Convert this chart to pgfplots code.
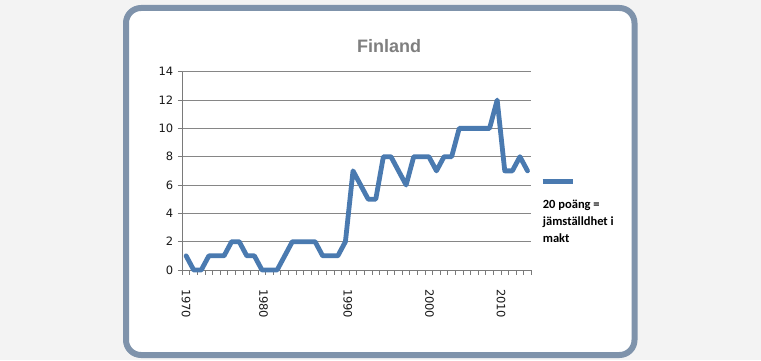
\documentclass[border=0pt]{standalone}
\usepackage{fontspec}
\setmainfont{DejaVu Sans}
\newfontfamily\titlefont{Liberation Sans}
\newfontfamily\legfont{Carlito}
\newfontfamily\tickfont{DejaVu Sans}
\newcommand\xl[1]{\mbox{\tickfont\fontsize{11.5bp}{13bp}\selectfont #1}}
\usepackage{pgfplots}
\pgfplotsset{compat=1.18}
\definecolor{series}{HTML}{4A7AB0}
\definecolor{framec}{HTML}{7F93AB}
\definecolor{bgc}{HTML}{F3F3F3}
\definecolor{gridc}{HTML}{868686}
\definecolor{titlec}{HTML}{7F7F7F}
\definecolor{axisc}{HTML}{7A7A7A}
\pgfplotstableread{
i v
0 1
1 0
2 0
3 1
4 1
5 1
6 2
7 2
8 1
9 1
10 0
11 0
12 0
13 1
14 2
15 2
16 2
17 2
18 1
19 1
20 1
21 2
22 7
23 6
24 5
25 5
26 8
27 8
28 7
29 6
30 8
31 8
32 8
33 7
34 8
35 8
36 10
37 10
38 10
39 10
40 10
41 12
42 7
43 7
44 8
45 7
}\finland
\begin{document}
\begin{tikzpicture}[x=1bp,y=1bp]
\useasboundingbox (0,0) rectangle (761,360);
\fill[bgc] (0,0) rectangle (761,360);
\draw[framec, line width=6bp, rounded corners=15bp, fill=white] (126,5) rectangle (634.5,352);
\begin{axis}[
  at={(182.3bp,90bp)}, anchor=south west, scale only axis,
  width=349bp, height=198.3bp,
  xmin=-0.5, xmax=45.5, ymin=0, ymax=14,
  /pgf/number format/assume math mode=true,
  ytick={0,2,...,14},
  xtick={0,10.2,21.3,32.1,41.5},
  xticklabels={\xl{1970},\xl{1980},\xl{1990},\xl{2000},\xl{2010}},
  minor xtick={-0.5,0.5,...,45.5},
  major x tick style={draw=none},
  minor tick length=4.5bp,
  minor x tick style={axisc, line width=0.9bp},
  xticklabel style={rotate=-90, anchor=west, text=black!90},
  xticklabel shift=11bp,
  axis x line*=bottom, axis y line*=left,
  axis line style={axisc, line width=0.9bp},
  ymajorgrids, grid style={gridc, line width=0.8bp},
  tick align=outside, major tick length=4.5bp,
  tick style={axisc, line width=0.9bp},
  yticklabel style={font=\fontsize{11.5bp}{13bp}\selectfont, text=black!90, xshift=-1bp},
  clip=false,
]
\addplot[series, line width=4.8bp, line join=round, line cap=round] table[x=i, y=v] {\finland};
\end{axis}
\node[font=\titlefont\bfseries\fontsize{18bp}{21bp}\selectfont, text=titlec, anchor=base] at (389,308) {Finland};
\draw[series, line width=4.8bp] (542.5,178.3) -- (572.5,178.3);
\node[anchor=north west, align=left, inner sep=0pt, font=\legfont\bfseries\fontsize{12.5bp}{17bp}\selectfont] at (542.7,160.5) {20 poäng =\\jämställdhet i\\makt};
\end{tikzpicture}
\end{document}
